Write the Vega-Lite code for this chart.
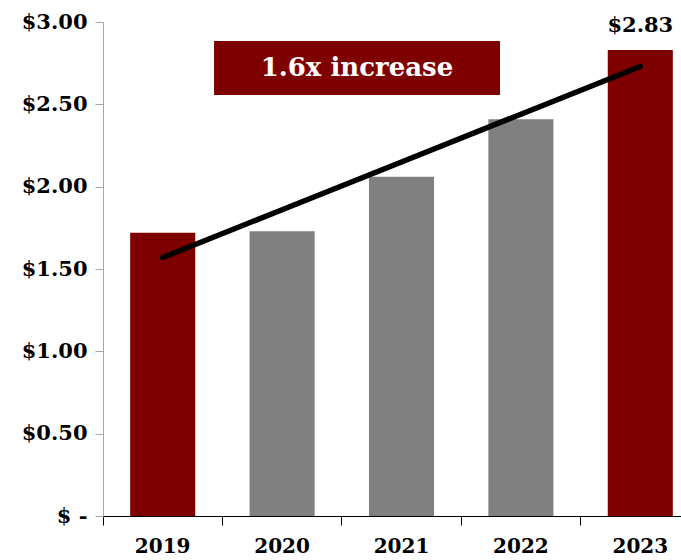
{
  "$schema": "https://vega.github.io/schema/vega-lite/v6.json",
  "width": 578,
  "height": 494,
  "autosize": {"type": "none"},
  "padding": {"left": 103, "top": 22, "right": 0, "bottom": 44},
  "background": "white",
  "config": {"view": {"stroke": null}, "font": "DejaVu Serif"},
  "data": {
    "values": [
      {"year": "2019", "value": 1.72, "trend": 1.57, "group": "highlight"},
      {"year": "2020", "value": 1.73, "trend": 1.86, "group": "other"},
      {"year": "2021", "value": 2.06, "trend": 2.15, "group": "other"},
      {"year": "2022", "value": 2.41, "trend": 2.44, "group": "other"},
      {"year": "2023", "value": 2.83, "trend": 2.73, "group": "highlight"}
    ]
  },
  "layer": [
    {
      "layer": [
        {
          "mark": {"type": "bar", "width": {"band": 0.545}},
          "encoding": {
            "x": {
              "field": "year",
              "type": "ordinal",
              "title": null,
              "scale": {"range": [0, 597], "paddingInner": 0, "paddingOuter": 0},
              "axis": {
                "bandPosition": 0,
                "labelAngle": 0,
                "domainColor": "black",
                "domainWidth": 1,
                "tickColor": "black",
                "tickSize": 9,
                "labelFont": "DejaVu Serif",
                "labelFontWeight": "bold",
                "labelFontSize": 20,
                "labelColor": "black",
                "labelPadding": 11,
                "grid": false
              }
            },
            "y": {
              "field": "value",
              "type": "quantitative",
              "title": null,
              "scale": {"domain": [0, 3]},
              "axis": {
                "values": [0, 0.5, 1, 1.5, 2, 2.5, 3],
                "labelExpr": "datum.value === 0 ? '$ -' : '$' + format(datum.value, '.2f')",
                "domainColor": "#A6A6A6",
                "tickColor": "#A6A6A6",
                "tickSize": 8,
                "labelFont": "DejaVu Serif",
                "labelFontWeight": "bold",
                "labelFontSize": 21,
                "labelColor": "black",
                "labelPadding": 8,
                "grid": false
              }
            },
            "color": {
              "field": "group",
              "type": "nominal",
              "scale": {"domain": ["highlight", "other"], "range": ["#7F0000", "#808080"]},
              "legend": null
            }
          }
        },
        {
          "mark": {"type": "line", "color": "black", "strokeWidth": 5.5, "strokeCap": "round"},
          "encoding": {
            "x": {"field": "year", "type": "ordinal", "title": null},
            "y": {"field": "trend", "type": "quantitative", "title": null}
          }
        },
        {
          "transform": [{"filter": "datum.year == '2023'"}],
          "mark": {"type": "text", "color": "black", "fontSize": 21, "fontWeight": "bold", "font": "DejaVu Serif", "baseline": "alphabetic", "dy": -18},
          "encoding": {
            "x": {"field": "year", "type": "ordinal", "title": null},
            "y": {"field": "value", "type": "quantitative", "title": null},
            "text": {"field": "value", "type": "quantitative", "format": "$.2f"}
          }
        }
      ]
    },
    {
      "data": {"values": [{"x1": 0.93, "x2": 3.325, "y1": 2.556, "y2": 2.884, "xm": 2.127, "ym": 2.72, "label": "1.6x increase"}]},
      "layer": [
        {
          "mark": {"type": "rect", "color": "#7F0000"},
          "encoding": {
            "x": {"field": "x1", "type": "quantitative", "scale": {"domain": [0, 5], "range": [0, 597]}, "axis": null},
            "x2": {"field": "x2"},
            "y": {"field": "y1", "type": "quantitative", "title": null},
            "y2": {"field": "y2"}
          }
        },
        {
          "mark": {"type": "text", "color": "white", "fontSize": 26, "fontWeight": "bold", "font": "DejaVu Serif", "baseline": "middle", "align": "center"},
          "encoding": {
            "x": {"field": "xm", "type": "quantitative"},
            "y": {"field": "ym", "type": "quantitative", "title": null},
            "text": {"field": "label"}
          }
        }
      ]
    }
  ],
  "resolve": {"scale": {"x": "independent"}}
}
